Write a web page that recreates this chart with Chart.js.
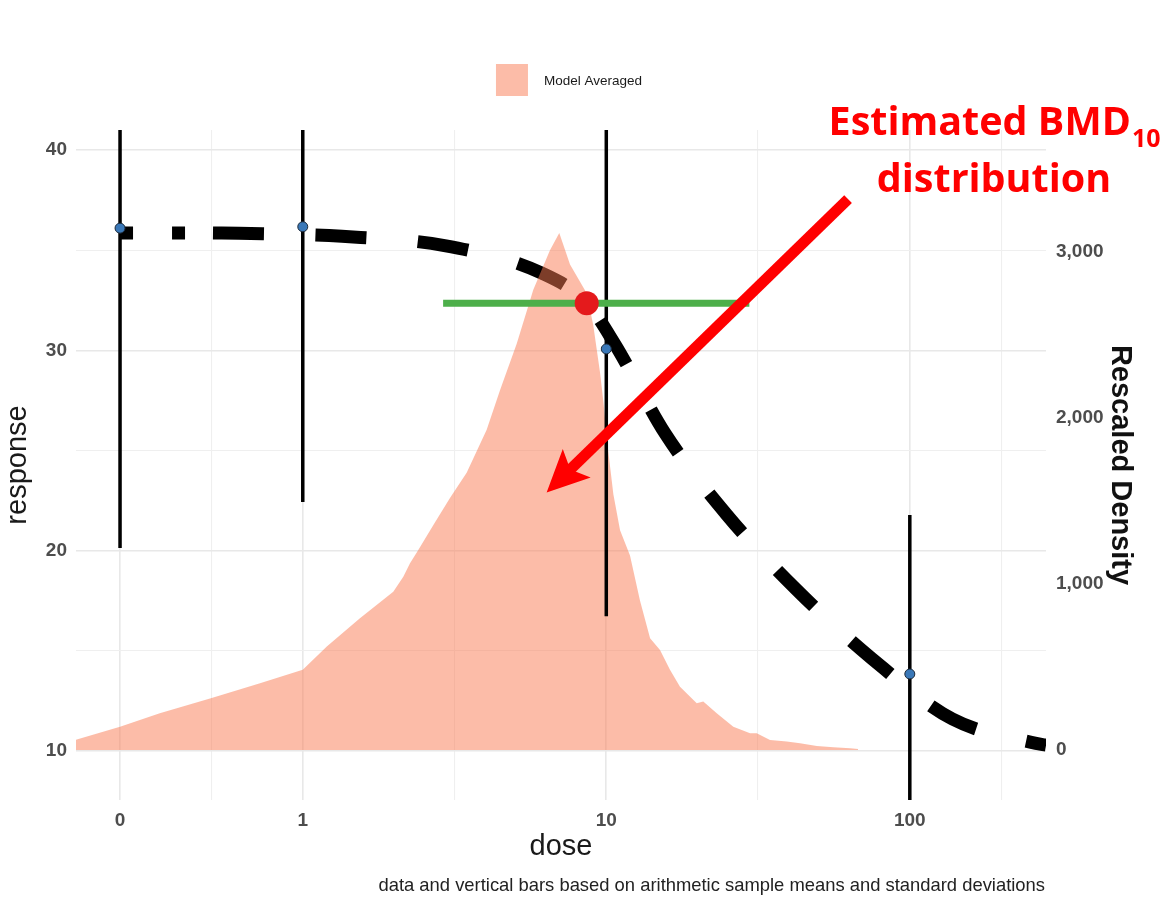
<!DOCTYPE html>
<html>
<head>
<meta charset="utf-8">
<script src="https://cdn.jsdelivr.net/npm/chart.js@4.4.1/dist/chart.umd.min.js"></script>
<style>
  html, body { margin: 0; padding: 0; background: #ffffff; }
  #wrap { position: relative; width: 1173px; height: 901px; }
</style>
</head>
<body>
<div id="wrap"><canvas id="c" width="1173" height="901"></canvas></div>
<script>
// ---- axes -------------------------------------------------------------
// the control group (dose 0) sits at 0.25 on the log10 dose axis
const ZERO_DOSE = 0.25;
const doseTicks = [0, 1, 10, 100];
const doseTickLabels = ['0', '1', '10', '100'];
const doseMinorBreaks = [0.5, 3.16, 31.6, 200];
const doseRange = [0.179, 281];

const responseTicks = [10, 20, 30, 40];
const responseMinorBreaks = [15, 25, 35];
const responseRange = [7.55, 41.0];

const densityTicks = [0, 1000, 2000, 3000];
// secondary axis: density = (response - densityZeroResponse) * densityPerResponse
const densityZeroResponse = 10.05;
const densityPerResponse = 120.6;

// ---- observed groups (arithmetic mean +/- SD) ------------------------
const groupDose = [0, 1, 10, 100];
const groupMean = [36.10, 36.17, 30.07, 13.84];
const groupSD   = [15.97, 13.74, 13.35, 7.94];

// ---- model averaged dose-response curve ------------------------------
const fitDose     = [0, 0.506, 0.616, 1.346, 2.93, 6.159, 8.62, 10.68, 15.61, 24.98, 42.17, 74.9, 138.2, 260.5, 281.1];
const fitResponse = [35.86, 35.86, 35.84, 35.69, 35.23, 33.84, 32.38, 30.30, 25.86, 21.78, 18.08, 14.62, 11.59, 10.38, 10.29];

// ---- BMD10 estimate and interval ---------------------------------------
const bmdDose = 8.62;
const bmdLower = 2.90;
const bmdUpper = 29.6;
const bmrResponse = 32.35;

// ---- rescaled BMD10 density ------------------------------------------
const densityDose = [0.179, 0.25, 0.338, 0.498, 0.723, 1.0, 1.20, 1.543, 1.987, 2.144, 2.256, 2.402, 2.706,
  3.055, 3.467, 4.036, 4.465, 5.068, 5.748, 6.523, 7.00, 7.594, 8.619, 9.061, 9.533, 9.775, 10.15, 10.55,
  11.10, 11.97, 12.91, 13.94, 15.03, 16.21, 17.49, 19.86, 20.87, 23.11, 26.21, 29.76, 31.30, 34.62, 39.30,
  43.48, 49.35, 55.97, 63.53, 67.5];
const densityValue = [62, 140, 221, 311, 401, 482, 622, 793, 953, 1043, 1124, 1204, 1360,
  1517, 1669, 1928, 2166, 2446, 2771, 3008, 3112, 2922, 2749, 2555, 2274, 2101, 1798, 1539,
  1323, 1170, 900, 673, 602, 482, 381, 281, 291, 221, 140, 100, 100, 60, 50,
  40, 24, 16, 10, 6];

// ---- callout -----------------------------------------------------------
const calloutTail = { dose: 62.6, response: 37.55 };
const calloutTip  = { dose: 6.36, response: 22.9 };
const calloutText = { dose: 189.4, response: 40.75 };

const FONT = '"Liberation Sans", Arial, Helvetica, sans-serif';
const pos = d => Math.log10(d === 0 ? ZERO_DOSE : d);
const near = (a, b) => Math.abs(a - b) < 1e-6;
const majorX = doseTicks.map(pos);
const isMajorX = v => majorX.some(p => near(p, v));

const fitPts = fitDose.map((d, i) => ({ x: pos(d), y: fitResponse[i] }));
const densityPts = densityDose.map((d, i) => ({ x: pos(d), y: densityValue[i] }));
const errPts = [];
groupDose.forEach((d, i) => {
  errPts.push({ x: pos(d), y: groupMean[i] - groupSD[i] });
  errPts.push({ x: pos(d), y: groupMean[i] + groupSD[i] });
  errPts.push({ x: pos(d), y: null });
});
const meanPts = groupDose.map((d, i) => ({ x: pos(d), y: groupMean[i] }));

const AREA_COLOR = 'rgba(250, 122, 82, 0.5)';

const overlay = {
  id: 'overlay',
  afterDraw(chart) {
    const { ctx, chartArea: a, scales } = chart;
    const xs = scales.x, ys = scales.y;
    ctx.save();

    // legend
    const legendLabel = chart.data.datasets.find(d => d.label).label;
    ctx.font = '13.5px ' + FONT;
    const tw = ctx.measureText(legendLabel).width;
    const total = 32 + 16 + tw;
    const lx = (a.left + a.right) / 2 + 8 - total / 2;
    const ly = a.top - 66;
    ctx.fillStyle = AREA_COLOR;
    ctx.fillRect(lx, ly, 32, 32);
    ctx.fillStyle = '#1a1a1a';
    ctx.textBaseline = 'middle';
    ctx.textAlign = 'left';
    ctx.fillText(legendLabel, lx + 48, ly + 17);

    // caption
    ctx.font = '18.4px ' + FONT;
    ctx.fillStyle = '#222222';
    ctx.textAlign = 'right';
    ctx.textBaseline = 'alphabetic';
    ctx.fillText('data and vertical bars based on arithmetic sample means and standard deviations', a.right - 1, 891);

    // callout arrow
    const x1 = xs.getPixelForValue(pos(calloutTail.dose)), y1 = ys.getPixelForValue(calloutTail.response);
    const x2 = xs.getPixelForValue(pos(calloutTip.dose)),  y2 = ys.getPixelForValue(calloutTip.response);
    const len = Math.hypot(x2 - x1, y2 - y1);
    const ux = (x2 - x1) / len, uy = (y2 - y1) / len;
    const px = -uy, py = ux;
    const headLen = 42, halfW = 20, notch = 9;
    ctx.strokeStyle = '#ff0000';
    ctx.fillStyle = '#ff0000';
    ctx.lineWidth = 11;
    ctx.lineCap = 'butt';
    ctx.beginPath();
    ctx.moveTo(x1, y1);
    ctx.lineTo(x2 - ux * (headLen - notch - 2), y2 - uy * (headLen - notch - 2));
    ctx.stroke();
    ctx.beginPath();
    ctx.moveTo(x2, y2);
    ctx.lineTo(x2 - ux * headLen + px * halfW, y2 - uy * headLen + py * halfW);
    ctx.lineTo(x2 - ux * (headLen - notch), y2 - uy * (headLen - notch));
    ctx.lineTo(x2 - ux * headLen - px * halfW, y2 - uy * headLen - py * halfW);
    ctx.closePath();
    ctx.fill();

    // callout text
    const cx = xs.getPixelForValue(pos(calloutText.dose));
    const cy = ys.getPixelForValue(calloutText.response);
    const bigFont = 'bold 39.5px "Open Sans", "Noto Sans", sans-serif';
    const subFont = 'bold 25px "Open Sans", "Noto Sans", sans-serif';
    ctx.font = bigFont;
    const main = 'Estimated BMD';
    const wMain = ctx.measureText(main).width;
    ctx.font = subFont;
    const wSub = ctx.measureText('10').width;
    const start = cx - (wMain + wSub) / 2;
    ctx.textAlign = 'left';
    ctx.font = bigFont;
    ctx.fillText(main, start, cy);
    ctx.font = subFont;
    ctx.fillText('10', start + wMain + 1, cy + 12);
    ctx.font = bigFont;
    ctx.textAlign = 'center';
    ctx.fillText('distribution', cx, cy + 57);
    ctx.restore();
  }
};

new Chart(document.getElementById('c'), {
  type: 'line',
  data: {
    datasets: [
      {
        data: fitPts.slice(0, 2),
        borderColor: '#000000', borderWidth: 13, borderDash: [13, 39, 13, 300],
        pointRadius: 0, order: 10, clip: 0
      },
      {
        data: fitPts.slice(1),
        borderColor: '#000000', borderWidth: 13, borderDash: [51, 51.5],
        borderJoinStyle: 'round', cubicInterpolationMode: 'monotone',
        pointRadius: 0, order: 9, clip: 0
      },
      {
        label: 'Model Averaged',
        data: densityPts, yAxisID: 'y2',
        backgroundColor: AREA_COLOR, borderWidth: 0, borderColor: 'rgba(0,0,0,0)',
        fill: 'origin', pointRadius: 0, tension: 0, order: 8, clip: 0
      },
      {
        data: errPts, spanGaps: false,
        borderColor: '#000000', borderWidth: 3.5, pointRadius: 0, order: 7, clip: 0
      },
      {
        data: meanPts, showLine: false,
        pointRadius: 5, pointBackgroundColor: '#3a78b8', pointBorderColor: '#1c2a3a', pointBorderWidth: 1,
        order: 6, clip: 0
      },
      {
        data: [{ x: pos(bmdLower), y: bmrResponse }, { x: pos(bmdUpper), y: bmrResponse }],
        borderColor: '#4daf4a', borderWidth: 7, pointRadius: 0, order: 5, clip: 0
      },
      {
        data: [{ x: pos(bmdDose), y: bmrResponse }], showLine: false,
        pointRadius: 12, pointBackgroundColor: '#e41a1c', pointBorderWidth: 0, order: 4, clip: 0
      }
    ]
  },
  options: {
    responsive: false,
    devicePixelRatio: 1,
    animation: false,
    layout: { padding: { top: 130, left: 0, right: 0, bottom: 0 } },
    plugins: { legend: { display: false }, tooltip: { enabled: false } },
    scales: {
      x: {
        type: 'linear',
        min: pos(doseRange[0]), max: pos(doseRange[1]),
        afterBuildTicks: s => {
          s.ticks = [...doseTicks, ...doseMinorBreaks].map(pos).sort((a, b) => a - b).map(v => ({ value: v }));
        },
        afterFit: s => { s.height = 101; },
        border: { display: false },
        grid: {
          drawTicks: false,
          color: ctx => (ctx.tick && isMajorX(ctx.tick.value)) ? '#e8e8e8' : '#efefef',
          lineWidth: ctx => (ctx.tick && isMajorX(ctx.tick.value)) ? 1.6 : 1.1
        },
        ticks: {
          autoSkip: false, maxRotation: 0, padding: 9,
          color: '#4d4d4d', font: { family: FONT, size: 19, weight: 'bold' },
          callback: v => {
            const i = majorX.findIndex(p => near(p, v));
            return i >= 0 ? doseTickLabels[i] : '';
          }
        },
        title: {
          display: true, text: 'dose', color: '#1a1a1a',
          font: { family: FONT, size: 29 }, padding: { top: 0, bottom: 37 }
        }
      },
      y: {
        position: 'left',
        min: responseRange[0], max: responseRange[1],
        afterBuildTicks: s => {
          s.ticks = [...responseTicks, ...responseMinorBreaks].sort((a, b) => a - b).map(v => ({ value: v }));
        },
        afterFit: s => { s.width = 76; },
        border: { display: false },
        grid: {
          drawTicks: false,
          color: ctx => (ctx.tick && responseTicks.includes(ctx.tick.value)) ? '#e8e8e8' : '#efefef',
          lineWidth: ctx => (ctx.tick && responseTicks.includes(ctx.tick.value)) ? 1.6 : 1.1
        },
        ticks: {
          padding: 9, color: '#4d4d4d', font: { family: FONT, size: 19, weight: 'bold' },
          callback: v => responseTicks.includes(v) ? String(v) : ''
        },
        title: {
          display: true, text: 'response', color: '#1a1a1a',
          font: { family: FONT, size: 29, lineHeight: 0.9 }, padding: { top: 5 }
        }
      },
      y2: {
        position: 'right',
        min: (responseRange[0] - densityZeroResponse) * densityPerResponse,
        max: (responseRange[1] - densityZeroResponse) * densityPerResponse,
        afterBuildTicks: s => { s.ticks = densityTicks.map(v => ({ value: v })); },
        afterFit: s => { s.width = 127; },
        border: { display: false },
        grid: { display: false, drawTicks: false },
        ticks: {
          padding: 10, color: '#4d4d4d', font: { family: FONT, size: 19, weight: 'bold' },
          callback: v => v.toLocaleString('en-US')
        },
        title: {
          display: true, text: 'Rescaled Density', color: '#111111',
          font: { family: FONT, size: 29, weight: 'bold' }, padding: { top: 36 }
        }
      }
    }
  },
  plugins: [overlay]
});
</script>
</body>
</html>
